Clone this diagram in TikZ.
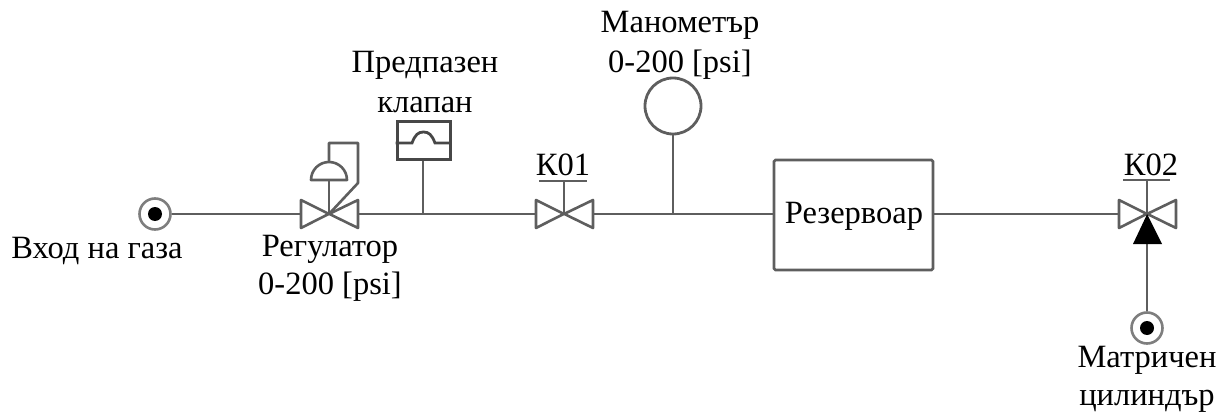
\documentclass[tikz,border=0pt]{standalone}
\usepackage{fontspec}
\setmainfont{Liberation Serif}
\usetikzlibrary{calc}
\definecolor{pipe}{HTML}{5E5E5E}
\tikzset{
  x=1pt,y=-1pt,
  pipeline/.style={draw=pipe,line width=2.8pt},
  thin pipe/.style={draw=pipe,line width=2.6pt,line join=round},
  txt/.style={font=\fontsize{32.5}{40}\selectfont,align=center,inner sep=0pt,text=black},
  port outer/.style={circle,draw=pipe!80,line width=2.6pt,minimum size=31pt,inner sep=0pt,fill=white},
  port inner/.style={circle,fill=black,minimum size=14pt,inner sep=0pt},
  junction/.style={inner sep=0pt,minimum size=0pt},
  gaugebox/.style={circle,draw=pipe,line width=2.8pt,minimum size=56pt,inner sep=0pt},
  tankbox/.style={rectangle,rounded corners=1.5pt,draw=pipe,line width=2.8pt,minimum width=159pt,minimum height=110pt,inner sep=0pt},
  reliefbox/.style={rectangle,draw=black!72,line width=3pt,minimum width=53pt,minimum height=38pt,inner sep=0pt},
}
\newcommand{\valvebody}[1]{%
  \filldraw[thin pipe,fill=white] (#1) -- ++(-28,-14) -- ++(0,28) -- cycle;
  \filldraw[thin pipe,fill=white] (#1) -- ++(29,-14) -- ++(0,28) -- cycle;
}
\begin{document}
\begin{tikzpicture}
\useasboundingbox (0,0) rectangle (1227,412);
% junctions
\node[junction] (reg) at (329,214) {};
\node[junction] (k1) at (564,214) {};
\node[junction] (k2) at (1147,214) {};
\node[junction] (tee1) at (423,214) {};
\node[junction] (tee2) at (673,214) {};
\node[junction] (bar1) at (564,181) {};
\node[junction] (bar2) at (1147,180) {};
\node[junction] (dome) at (329,180) {};
% equipment
\node[port outer] (inlet) at (155,214) {};
\node[port inner] (inletdot) at (155,214) {};
\node[port outer] (matrix) at (1147,328) {};
\node[port inner] (matrixdot) at (1147,328) {};
\node[gaugebox] (gauge) at (673,106) {};
\node[tankbox] (tank) at (853.5,215) {};
\node[txt,anchor=base] (ltank) at (854,223) {Резервоар};
\node[reliefbox] (relief) at (423.5,140) {};
% pipes
\draw[pipeline] (inlet) -- (reg);
\draw[pipeline] (reg) -- (k1);
\draw[pipeline] (k1) -- (k1 -| tank.west);
\draw[pipeline] (k2 -| tank.east) -- (k2);
\draw[pipeline] (tee1) -- (relief.south -| tee1);
\draw[pipeline] (tee2) -- (gauge);
\draw[pipeline] (k2) -- (matrix);
% valve bodies
\foreach \v in {reg,k1,k2} {\valvebody{\v}}
% stems
\draw[pipeline] (reg) -- (dome);
\draw[pipeline] (k1) -- (bar1);
\draw[pipeline] (k2) -- (bar2);
% regulator diaphragm and feedback
\draw[thin pipe] (311,180) arc[start angle=180,end angle=360,radius=18] -- cycle;
\draw[thin pipe] (reg) -- (358,183) -- (358,143) -- (329,143) -- (329,162);
% relief valve inner line
\draw[draw=black!72,line width=2.8pt] (relief.west |- 0,143) -- (412,143) .. controls (415,135) and (418,132) .. (423.5,132) .. controls (429,132) and (432,135) .. (435,143) -- (relief.east |- 0,143);
% K02 black wedge
\fill[black] (k2) -- (1162,244) -- (1133,244) -- cycle;
% bars
\draw[pipeline] (539,181) -- (587,181);
\draw[pipeline] (1123,180) -- (1170,180);
% labels
\node[txt,anchor=base] (lgauge) at (680,73) {Манометър\\0-200 [psi]};
\node[txt,anchor=base] (lrelief) at (425,113) {Предпазен\\клапан};
\node[txt,anchor=base] (lk1) at (563,175) {К01};
\node[txt,anchor=base] (lk2) at (1151,175) {К02};
\node[txt,anchor=base] (linlet) at (97,258) {Вход на газа};
\node[txt,anchor=base] (lreg) at (330,294) {Регулатор\\[-2pt]0-200 [psi]};
\node[txt,anchor=base] (lmatrix) at (1147,405) {Матричен\\[-2pt]цилиндър};
\end{tikzpicture}
\end{document}
